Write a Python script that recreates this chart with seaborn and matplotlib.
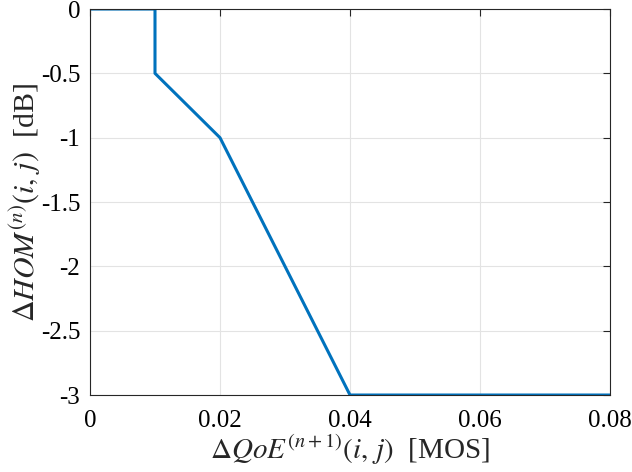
import matplotlib
matplotlib.use("Agg")
import matplotlib.pyplot as plt
import seaborn as sns
import pandas as pd

# Piecewise-linear mapping of QoE change to HOM offset
delta_qoe = [0.0, 0.01, 0.01, 0.02, 0.04, 0.08]
delta_hom = [0.0, 0.0, -0.5, -1.0, -3.0, -3.0]

x_ticks = [0, 0.02, 0.04, 0.06, 0.08]
x_tick_labels = ["0", "0.02", "0.04", "0.06", "0.08"]
y_ticks = [0, -0.5, -1, -1.5, -2, -2.5, -3]
y_tick_labels = ["0", "-0.5", "-1", "-1.5", "-2", "-2.5", "-3"]

sns.set_style("white")
plt.rcParams["font.family"] = ["Liberation Serif", "DejaVu Serif"]
plt.rcParams["mathtext.fontset"] = "stix"

df = pd.DataFrame({"dqoe": delta_qoe, "dhom": delta_hom})

fig = plt.figure(figsize=(6.32, 4.72), dpi=100)
ax = fig.add_axes([0.1424, 0.1631, 0.8228, 0.8178])

sns.lineplot(data=df, x="dqoe", y="dhom", sort=False, estimator=None,
             color="#0072BD", linewidth=2.2, ax=ax)

ax.set_xlim(0, 0.08)
ax.set_ylim(-3, 0)
ax.set_xticks(x_ticks)
ax.set_xticklabels(x_tick_labels)
ax.set_yticks(y_ticks)
ax.set_yticklabels(y_tick_labels)

ax.grid(True, color="#e3e3e3", linewidth=0.8)
ax.set_axisbelow(True)
for s in ax.spines.values():
    s.set_visible(True)
    s.set_color("#262626")
    s.set_linewidth(0.8)

ax.tick_params(axis="both", which="both", direction="in", length=5,
               top=True, right=True, labelsize=18, colors="#262626",
               labelcolor="black")
ax.tick_params(axis="x", pad=11)
ax.tick_params(axis="y", pad=7)

ax.set_xlabel(r"$\Delta QoE^{(n+1)}(i,\,j)\ $ [MOS]", fontsize=21, va="center")
ax.set_ylabel(r"$\Delta HOM^{(n)}(i,\,j)\ $ [dB]", fontsize=21.5, va="center")
ax.xaxis.set_label_coords(0.5, -0.142)
ax.yaxis.set_label_coords(-0.124, 0.5)

fig.savefig("out.png", dpi=100)
